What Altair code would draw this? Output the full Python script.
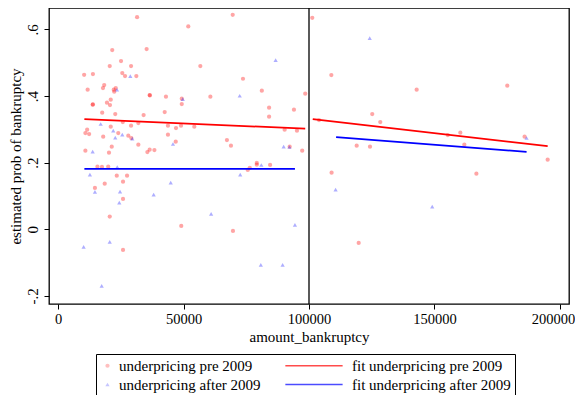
import altair as alt
import pandas as pd

# scatter: underpricing pre 2009 (red dots)
pre_x = [31.5, 69.6, 51.9, 21.6, 35.3, 25.1, 20.6, 29.1, 56.7, 10.4, 13.9, 25.6, 26.7, 31.2, 73.7,
         11.8, 18.4, 17.9, 22.2, 22.4, 23.0, 81.2, 36.5, 36.6, 43.0, 49.3, 60.7, 98.5, 21.0, 19.5,
         20.7, 13.8, 13.9, 49.3, 84.1, 17.6, 42.5, 94.0, 22.8, 34.1, 84.1, 25.8, 32.0, 29.1, 21.0,
         43.8, 47.0, 49.0, 54.3, 11.6, 10.9, 12.4, 18.0, 24.0, 28.0, 29.2, 43.8, 90.3, 95.2, 32.0,
         21.4, 67.3, 68.9, 46.9, 10.9, 20.3, 35.6, 36.5, 38.4, 97.3, 92.3, 15.7, 17.5, 20.0, 23.4,
         27.5, 25.9, 18.6, 14.7, 25.9, 20.6, 49.1, 69.7, 25.9, 75.6, 76.4, 79.2, 79.2, 84.5,
         101.3, 108.9, 142.9, 179.0, 125.2, 128.4, 104.0, 155.3, 160.3, 185.9, 161.9, 119.0, 124.3,
         195.1, 109.0, 166.7, 119.8]
pre_y = [0.637, 0.644, 0.609, 0.538, 0.541, 0.505, 0.490, 0.490, 0.490, 0.464, 0.466, 0.469, 0.460, 0.460, 0.452,
         0.419, 0.433, 0.424, 0.419, 0.413, 0.424, 0.416, 0.403, 0.402, 0.398, 0.392, 0.398, 0.407, 0.389, 0.380,
         0.373, 0.374, 0.375, 0.376, 0.365, 0.350, 0.352, 0.359, 0.346, 0.343, 0.338, 0.322, 0.319, 0.311, 0.308,
         0.311, 0.304, 0.311, 0.308, 0.299, 0.289, 0.286, 0.278, 0.289, 0.281, 0.274, 0.284, 0.299, 0.296, 0.254,
         0.248, 0.268, 0.251, 0.263, 0.236, 0.230, 0.232, 0.239, 0.238, 0.236, 0.248, 0.188, 0.187, 0.188, 0.161,
         0.161, 0.143, 0.137, 0.124, 0.091, 0.038, 0.010, -0.005, -0.062, 0.178, 0.184, 0.199, 0.194, 0.193,
         0.635, 0.463, 0.419, 0.431, 0.346, 0.322, 0.328, 0.283, 0.290, 0.278, 0.254, 0.251, 0.248,
         0.209, 0.170, 0.167, -0.041]

# scatter: underpricing after 2009 (blue triangles)
post_x = [28.8, 23.5, 49.7, 72.4, 86.7, 17.0, 22.0, 22.8, 25.6, 29.6, 45.8, 13.8, 89.9, 92.2, 23.6,
          12.7, 14.7, 24.7, 24.4, 38.1, 44.9, 61.0, 72.6, 81.0, 94.4, 10.2, 20.6, 17.4, 80.8, 89.5,
          124.2, 186.7, 110.6, 149.1]
post_y = [0.460, 0.419, 0.391, 0.401, 0.508, 0.316, 0.296, 0.275, 0.284, 0.272, 0.256, 0.233, 0.248, 0.247, 0.187,
          0.164, 0.112, 0.113, 0.080, 0.104, 0.140, 0.046, 0.164, 0.193, 0.013, -0.053, -0.038, -0.170, -0.107, -0.107,
          0.574, 0.274, 0.119, 0.068]

# fitted lines, one segment each side of the cutoff
fit_pre_x = [10500, 98500, 101500, 195100]
fit_pre_y = [0.331, 0.302, 0.331, 0.2496]
fit_post_x = [10500, 94400, 110800, 186700]
fit_post_y = [0.1815, 0.1815, 0.2766, 0.2325]
fit_side = ["left", "left", "right", "right"]

cutoff = [100000]
x_ticks = [0, 50000, 100000, 150000, 200000]
y_ticks = [-0.2, 0, 0.2, 0.4, 0.6]

# legend order (column-major: left column = scatter, right column = fits)
series = ["underpricing pre 2009", "underpricing after 2009",
          "fit underpricing pre 2009", "fit underpricing after 2009"]

pts = pd.DataFrame({
    "x": [v * 1000 for v in pre_x] + [v * 1000 for v in post_x],
    "y": pre_y + post_y,
    "series": [series[0]] * len(pre_x) + [series[1]] * len(post_x),
})
fits = pd.DataFrame({
    "x": fit_pre_x + fit_post_x,
    "y": fit_pre_y + fit_post_y,
    "series": [series[2]] * 4 + [series[3]] * 4,
    "side": fit_side + fit_side,
})
cut = pd.DataFrame({"x": cutoff})

FONT = "Liberation Serif"
xscale = alt.Scale(domain=[-3600, 203600], nice=False, zero=False)
yscale = alt.Scale(domain=[-0.2245, 0.6645], nice=False, zero=False)

legend = alt.Legend(
    title=None, orient="none", legendX=47, legendY=346, columns=2,
    symbolSize=18, symbolStrokeWidth=1.7, labelFont=FONT, labelFontSize=15,
    labelColor="black", labelOffset=4, labelLimit=400,
    strokeColor="black", fillColor="white", padding=4, rowPadding=3,
    columnPadding=20,
)
fill_scale = alt.Scale(domain=series, range=["rgba(255,0,0,0.5)", "rgba(0,0,255,0.45)", "transparent", "transparent"])
stroke_scale = alt.Scale(domain=series, range=["transparent", "transparent", "#ff0000", "#0000ff"])
shape_scale = alt.Scale(domain=series, range=["circle", "triangle-up", "M-26,0H1", "M-26,0H1"])

xenc = alt.X("x:Q", scale=xscale, title="amount_bankruptcy",
             axis=alt.Axis(values=x_ticks, format="d", labelFontSize=14.5,
                           labelOffset={"condition": {"test": "datum.value >= 200000", "value": -7}, "value": 0}))
yenc = alt.Y("y:Q", scale=yscale, title="estimated prob of bankruptcy",
             axis=alt.Axis(values=y_ticks, labelAngle=270, labelAlign="center", labelBaseline="bottom",
                           labelExpr="abs(datum.value) < 1e-9 ? '0' : (datum.value < 0 ? '-' : '') + substring(format(abs(datum.value), '.1f'), 1)"))

points = alt.Chart(pts).mark_point(filled=True, size=18, strokeWidth=0).encode(
    x=xenc, y=yenc,
    fill=alt.Fill("series:N", scale=fill_scale, legend=legend),
    shape=alt.Shape("series:N", scale=shape_scale, legend=legend),
)
lines = alt.Chart(fits).mark_line(strokeWidth=1.7).encode(
    x=xenc, y=yenc,
    stroke=alt.Stroke("series:N", scale=stroke_scale, legend=legend),
    detail="side:N",
)
rule = alt.Chart(cut).mark_rule(color="black", strokeWidth=1.3).encode(x=alt.X("x:Q", scale=xscale))

chart = alt.layer(points, lines, rule).properties(
    width=520, height=296,
    autosize=alt.AutoSizeParams(type="none"),
    padding={"left": 41, "top": 0, "right": 6, "bottom": 91},
).configure_view(
    stroke="black", strokeWidth=1.3,
).configure_axis(
    grid=False, domain=False, ticks=True, tickColor="black", tickSize=5, tickWidth=1,
    labelFont=FONT, labelFontSize=15, labelColor="black", labelPadding=3,
    titleFont=FONT, titleFontSize=15, titleFontWeight="normal", titleColor="black",
).configure_axisY(
    labelPadding=4, titlePadding=2,
).configure_axisX(
    titlePadding=4,
)

chart.save("out.html", embed_options={"renderer": "svg", "actions": False})
